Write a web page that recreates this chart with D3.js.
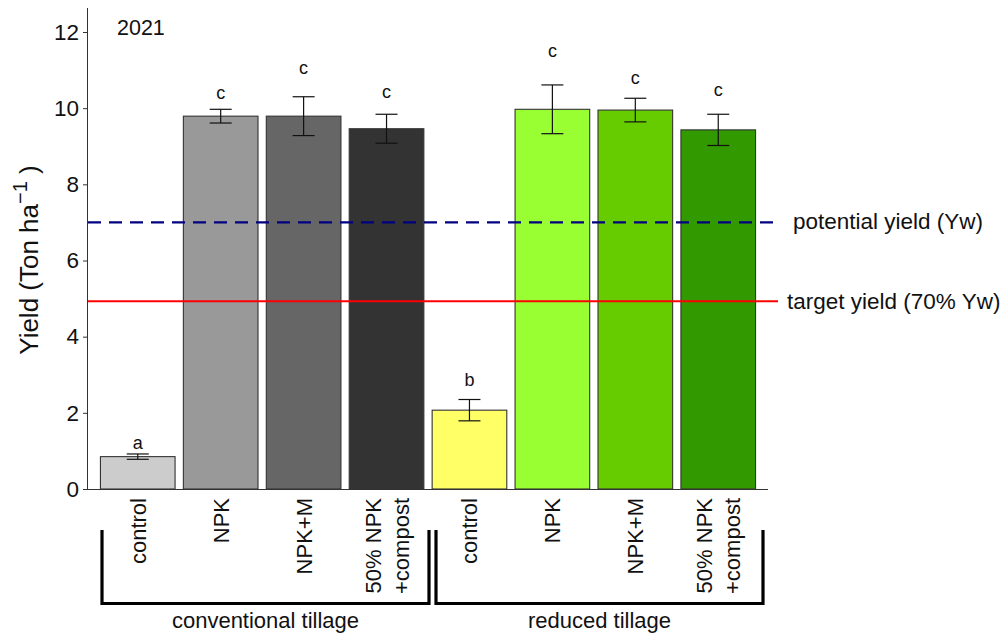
<!DOCTYPE html>
<html><head><meta charset="utf-8">
<script src="https://cdn.jsdelivr.net/npm/d3@7"></script>
<style>body{margin:0;background:#fff;} text{font-family:"Liberation Sans",Arial,sans-serif;}</style>
</head><body><svg id="c" width="1003" height="637"></svg>
<script>
const categories = ["control","NPK","NPK+M","50% NPK\n+compost","control","NPK","NPK+M","50% NPK\n+compost"];
const groups = ["conventional tillage","reduced tillage"];
const groupOf = [0,0,0,0,1,1,1,1];
const yields = [0.85, 9.79, 9.79, 9.46, 2.07, 9.97, 9.95, 9.43];
const errors = [0.07, 0.18, 0.51, 0.38, 0.28, 0.64, 0.31, 0.41];
const letters = ["a","c","c","c","b","c","c","c"];
const letterPos = [1.21, 10.39, 11.05, 10.42, 2.86, 11.5, 10.79, 10.47];
const colors = ["#CCCCCC","#999999","#666666","#333333","#FFFF66","#99FF33","#66CC00","#339900"];
const yTicks = [0,2,4,6,8,10,12];
const potentialYield = 7.0;
const targetYield = 4.93;

const svg = d3.select("#c");
const x0 = 88, x1 = 768, yBottom = 489;
const y = d3.scaleLinear().domain([0, 12]).range([yBottom, 32]);
const n = categories.length;
const x = d3.scaleLinear().domain([-0.6, n - 1 + 0.6]).range([x0, x1]);
const unit = x(1) - x(0);
const bw = unit * 0.9;

// bars
svg.append("g").selectAll("rect").data(yields).join("rect")
  .attr("x", (d,i) => x(i) - bw/2).attr("width", bw)
  .attr("y", d => y(d)).attr("height", d => y(0) - y(d))
  .attr("fill", (d,i) => colors[i]).attr("stroke", "#333").attr("stroke-width", 1.1);

// reference lines
svg.append("line").attr("x1", x0).attr("x2", 778).attr("y1", y(potentialYield)).attr("y2", y(potentialYield))
  .attr("stroke", "#000080").attr("stroke-width", 2.2).attr("stroke-dasharray", "13,8");
svg.append("line").attr("x1", x0).attr("x2", 778).attr("y1", y(targetYield)).attr("y2", y(targetYield))
  .attr("stroke", "#FF0000").attr("stroke-width", 2.2);

// error bars
const cap = 22;
const eg = svg.append("g").attr("stroke", "#111").attr("stroke-width", 1.2);
yields.forEach((d,i) => {
  eg.append("line").attr("x1", x(i)).attr("x2", x(i)).attr("y1", y(d+errors[i])).attr("y2", y(d-errors[i]));
  eg.append("line").attr("x1", x(i)-cap/2).attr("x2", x(i)+cap/2).attr("y1", y(d+errors[i])).attr("y2", y(d+errors[i]));
  eg.append("line").attr("x1", x(i)-cap/2).attr("x2", x(i)+cap/2).attr("y1", y(d-errors[i])).attr("y2", y(d-errors[i]));
});

// letters
svg.append("g").selectAll("text").data(letters).join("text")
  .attr("x", (d,i) => x(i)).attr("y", (d,i) => y(letterPos[i]) + 6)
  .attr("text-anchor", "middle").attr("font-size", 18).attr("fill", "#111").text(d => d);

// y axis
const yAxis = d3.axisLeft(y).tickValues(yTicks).tickSize(5).tickPadding(4);
const ya = svg.append("g").attr("transform", `translate(${x0},0)`).call(yAxis);
ya.select(".domain").attr("d", `M-0.5,8V${yBottom}`).attr("stroke", "#333");
ya.selectAll(".tick line").attr("stroke", "#333");
ya.selectAll(".tick text").attr("font-size", 22.5).attr("fill", "#111").attr("font-family", "Liberation Sans, Arial");

// x axis line
svg.append("line").attr("x1", x0).attr("x2", x1).attr("y1", yBottom + 0.5).attr("y2", yBottom + 0.5).attr("stroke", "#333").attr("stroke-width", 1.2);

// x labels rotated
categories.forEach((c,i) => {
  const lines = c.split("\n");
  const t = svg.append("text").attr("transform", `translate(${x(i)},498) rotate(-90)`)
    .attr("text-anchor", "end").attr("font-size", 22).attr("fill", "#111");
  const lh = 28;
  const off = -(lines.length - 1) * lh / 2;
  lines.forEach((l,k) => {
    t.append("tspan").attr("x", 0).attr("y", off + k*lh + 8).text(l);
  });
});

// brackets
const br = [[102, 429], [436, 763]];
br.forEach((b,g) => {
  svg.append("path").attr("d", `M${b[0]},530V603.5H${b[1]}V530`).attr("fill", "none")
    .attr("stroke", "#000").attr("stroke-width", 3.2);
  svg.append("text").attr("x", (b[0]+b[1])/2).attr("y", 628).attr("text-anchor", "middle")
    .attr("font-size", 22).attr("fill", "#111").text(groups[g]);
});

// line labels
svg.append("text").attr("x", 793).attr("y", y(potentialYield) + 7).attr("font-size", 22.5).attr("fill", "#111").text("potential yield (Yw)");
svg.append("text").attr("x", 787).attr("y", y(targetYield) + 8).attr("font-size", 22.5).attr("fill", "#111").text("target yield (70% Yw)");

// year
svg.append("text").attr("x", 117).attr("y", 35).attr("font-size", 21.5).attr("fill", "#111").text("2021");

// y title
const yt = svg.append("text").attr("transform", `translate(38,260) rotate(-90)`)
  .attr("text-anchor", "middle").attr("font-size", 26).attr("fill", "#111");
yt.append("tspan").text("Yield (Ton ha");
yt.append("tspan").attr("font-size", 20).attr("dy", -11).text("\u22121");
yt.append("tspan").attr("dy", 11).text(" )");
</script></body></html>
